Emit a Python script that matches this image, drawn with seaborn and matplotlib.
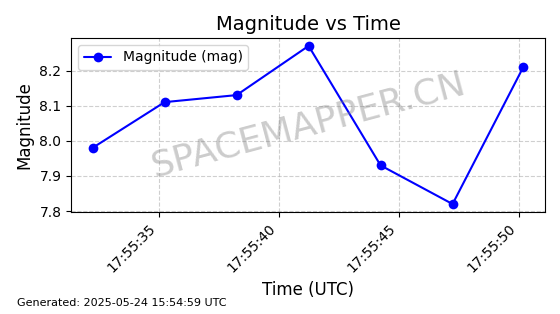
import matplotlib
matplotlib.use("Agg")
import matplotlib.pyplot as plt
import matplotlib.dates as mdates
import seaborn as sns
import pandas as pd

times = ["2025-05-24 17:55:32.25", "2025-05-24 17:55:35.25", "2025-05-24 17:55:38.25",
         "2025-05-24 17:55:41.25", "2025-05-24 17:55:44.25", "2025-05-24 17:55:47.25",
         "2025-05-24 17:55:50.20"]
magnitudes = [7.98, 8.11, 8.13, 8.27, 7.93, 7.82, 8.21]
series_label = "Magnitude (mag)"

df = pd.DataFrame({"time": pd.to_datetime(times), "mag": magnitudes})

sns.set_style("ticks")
plt.rcParams['font.family'] = ['DejaVu Sans']
for k in ["text.color", "axes.labelcolor", "xtick.color", "ytick.color", "axes.edgecolor"]:
    plt.rcParams[k] = "black"

fig = plt.figure(figsize=(5.6, 3.14), dpi=100)
ax = fig.add_axes([0.127, 0.325, 0.846, 0.554])

sns.lineplot(data=df, x="time", y="mag", ax=ax, color="blue", marker="o",
             markersize=7, markeredgewidth=0, linewidth=1.5, label=series_label)

ax.xaxis.set_major_locator(mdates.SecondLocator(bysecond=range(0, 60, 5)))
ax.xaxis.set_major_formatter(mdates.DateFormatter("%H:%M:%S"))
plt.setp(ax.get_xticklabels(), rotation=45, ha="right", fontsize=10)
ax.tick_params(axis="y", labelsize=10)
ax.set_yticks([7.8, 7.9, 8.0, 8.1, 8.2])

ax.grid(True, linestyle="--", color="#b0b0b0", linewidth=0.8, alpha=0.6)
for s in ax.spines.values():
    s.set_visible(True)
    s.set_color("black")

ax.set_title("Magnitude vs Time", fontsize=14)
ax.set_xlabel("Time (UTC)", fontsize=12)
ax.set_ylabel("Magnitude", fontsize=12)
ax.legend(loc="upper left", fontsize=10)

ax.text(0.5, 0.5, "SPACEMAPPER.CN", transform=ax.transAxes, fontsize=26,
        color="gray", alpha=0.4, rotation=15, ha="center", va="center")

fig.text(0.03, 0.025, "Generated: 2025-05-24 15:54:59 UTC", fontsize=8)

fig.savefig("out.png", dpi=100)
